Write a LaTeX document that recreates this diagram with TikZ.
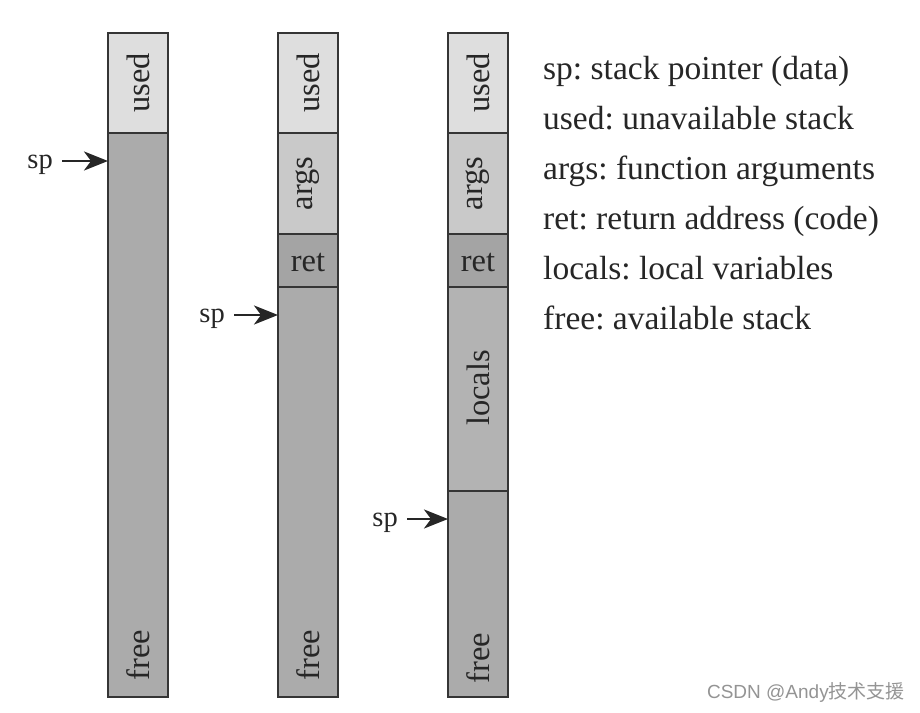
\documentclass[tikz,border=0pt]{standalone}
\usepackage{fontspec}
\setmainfont{Liberation Serif}
\newfontfamily\cjkfont{Noto Sans CJK SC}
\newfontfamily\wmfont{Liberation Sans}
\usetikzlibrary{arrows.meta}
\definecolor{cused}{HTML}{DEDEDE}
\definecolor{cargs}{HTML}{C9C9C9}
\definecolor{cret}{HTML}{A4A4A4}
\definecolor{cfree}{HTML}{ABABAB}
\definecolor{clocals}{HTML}{B3B3B3}
\definecolor{cline}{HTML}{353535}
\definecolor{ctext}{HTML}{262626}
\tikzset{
  block/.style={draw=cline, line width=1.6pt, minimum width=60pt, inner sep=0pt, outer sep=0pt},
  lab/.style={font=\fontsize{32.5}{38}\selectfont, text=ctext, inner sep=0pt},
  vlab/.style={lab, rotate=90},
  splab/.style={font=\fontsize{28.5}{32}\selectfont, text=ctext, inner sep=0pt, anchor=base east},
  ptr/.style={draw=ctext, line width=2.2pt, -{Stealth[length=24pt,width=19pt,inset=7pt]}},
  legend/.style={font=\fontsize{33.5}{38}\selectfont, text=ctext, anchor=base west, inner sep=0pt}
}
\begin{document}
\frenchspacing
\begin{tikzpicture}[x=1pt,y=-1pt]
\useasboundingbox (0,0) rectangle (920,712);
\fill[white] (0,0) rectangle (920,712);
% column 1
\node[block, fill=cused, minimum height=100pt] (u1) at (138,83) {};
\node[block, fill=cfree, minimum height=564pt] (f1) at (138,415) {};
\node[vlab] (lu1) at (138,83) {used};
\node[vlab] (lf1) at (138,655) {free};
\node[splab] (sp1) at (53,168) {sp};
\coordinate (a1) at (108,161);
% column 2
\node[block, fill=cused, minimum height=100pt] (u2) at (308,83) {};
\node[block, fill=cargs, minimum height=101pt] (g2) at (308,183.5) {};
\node[block, fill=cret, minimum height=53pt] (r2) at (308,260.5) {};
\node[block, fill=cfree, minimum height=410pt] (f2) at (308,492) {};
\node[vlab] (lu2) at (308,83) {used};
\node[vlab] (lg2) at (308,183.5) {args};
\node[lab] (lr2) at (308,263) {ret};
\node[vlab] (lf2) at (308,655) {free};
\node[splab] (sp2) at (225,322) {sp};
\coordinate (a2) at (278,315);
% column 3
\node[block, fill=cused, minimum height=100pt] (u3) at (478,83) {};
\node[block, fill=cargs, minimum height=101pt] (g3) at (478,183.5) {};
\node[block, fill=cret, minimum height=53pt] (r3) at (478,260.5) {};
\node[block, fill=clocals, minimum height=204pt] (l3) at (478,389) {};
\node[block, fill=cfree, minimum height=206pt] (f3) at (478,594) {};
\node[vlab] (lu3) at (478,83) {used};
\node[vlab] (lg3) at (478,183.5) {args};
\node[lab] (lr3) at (478,263) {ret};
\node[vlab] (ll3) at (478,388) {locals};
\node[vlab] (lf3) at (478,658) {free};
\node[splab] (sp3) at (398,526) {sp};
\coordinate (a3) at (448,519);
% arrows
\draw[ptr] ([xshift=9pt]sp1.east |- a1) -- (a1);
\draw[ptr] ([xshift=9pt]sp2.east |- a2) -- (a2);
\draw[ptr] ([xshift=9pt]sp3.east |- a3) -- (a3);
% legend
\node[legend] (k1) at (543,79) {sp: stack pointer (data)};
\node[legend] (k2) at (543,129) {used: unavailable stack};
\node[legend] (k3) at (543,179) {args: function arguments};
\node[legend] (k4) at (543,229) {ret: return address (code)};
\node[legend] (k5) at (543,279) {locals: local variables};
\node[legend] (k6) at (543,329) {free: available stack};
% watermark
\node[anchor=east, inner sep=0pt, text=black!42, font=\wmfont\fontsize{19}{22}\selectfont] (wm) at (905,692) {CSDN @Andy{\cjkfont 技术支援}};
\end{tikzpicture}
\end{document}
